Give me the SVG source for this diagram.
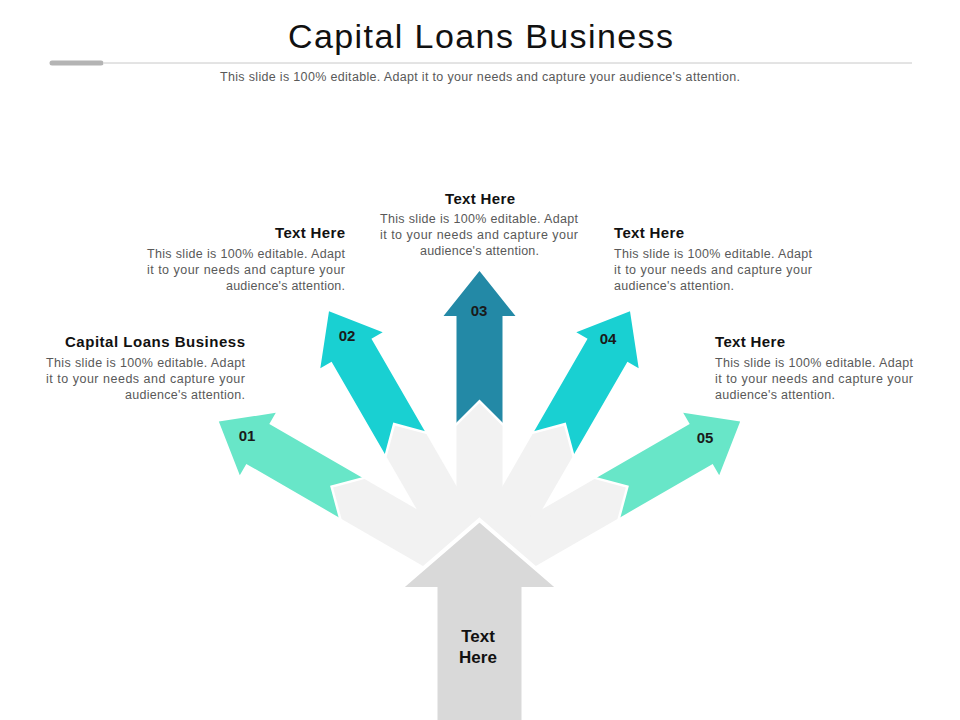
<svg xmlns="http://www.w3.org/2000/svg" width="960" height="720" viewBox="0 0 960 720">
<defs>
<style>
.title{font-family:"Liberation Sans",Arial,sans-serif;font-size:34px;fill:#111;}
.sub{font-family:"Liberation Sans",Arial,sans-serif;font-size:12.5px;fill:#595959;}
.hd{font-family:"Liberation Sans",Arial,sans-serif;font-size:15px;font-weight:bold;fill:#111;}
.bd{font-family:"Liberation Sans",Arial,sans-serif;font-size:12.5px;fill:#595959;}
.num{font-family:"Liberation Sans",Arial,sans-serif;font-size:15px;font-weight:bold;fill:#1a1a1a;text-anchor:middle;}
.ctr{font-family:"Liberation Sans",Arial,sans-serif;font-size:17px;font-weight:bold;fill:#111;text-anchor:middle;}
.mint{fill:#68E6C8;}
.cyan{fill:#19D0D2;}
.dark{fill:#2389A6;}
.segS{fill:#F2F2F2;stroke:#FFFFFF;stroke-width:5;stroke-linejoin:miter;}
.segF{fill:#F2F2F2;}
</style>
<path id="arw" d="M0,-301 L36,-256 L23,-256 L23,-148 L0,-171 L-23,-148 L-23,-256 L-36,-256 Z"/>
<path id="seg" d="M-23,0 L-23,-146 L0,-169 L23,-146 L23,0 Z"/>
</defs>
<rect width="960" height="720" fill="#FFFFFF"/>

<g id="header">
<text class="title" x="288" y="48" textLength="385" lengthAdjust="spacing">Capital Loans Business</text>
<line x1="104" y1="63" x2="912" y2="63" stroke="#C8C8C8" stroke-width="1"/>
<line x1="52" y1="63" x2="101" y2="63" stroke="#B4B4B4" stroke-width="5" stroke-linecap="round"/>
<text class="sub" x="220" y="81" textLength="520" lengthAdjust="spacing">This slide is 100% editable. Adapt it to your needs and capture your audience's attention.</text>
</g>

<g id="connectors">
<g transform="translate(479.5,572)">
<use href="#arw" class="mint" transform="rotate(-60)"/>
<use href="#arw" class="cyan" transform="rotate(-30)"/>
<use href="#arw" class="dark"/>
<use href="#arw" class="cyan" transform="rotate(30)"/>
<use href="#arw" class="mint" transform="rotate(60)"/>
<use href="#seg" class="segS" transform="rotate(-60)"/>
<use href="#seg" class="segS" transform="rotate(-30)"/>
<use href="#seg" class="segS"/>
<use href="#seg" class="segS" transform="rotate(30)"/>
<use href="#seg" class="segS" transform="rotate(60)"/>
<use href="#seg" class="segF" transform="rotate(-60)"/>
<use href="#seg" class="segF" transform="rotate(-30)"/>
<use href="#seg" class="segF"/>
<use href="#seg" class="segF" transform="rotate(30)"/>
<use href="#seg" class="segF" transform="rotate(60)"/>
</g>
</g>

<g id="center-node">
<path d="M479.5,520 L559.5,589 L523.5,589 L523.5,725 L435.5,725 L435.5,589 L399.5,589 Z" fill="#D9D9D9" stroke="#FFFFFF" stroke-width="4" stroke-linejoin="miter"/>
<text class="ctr" x="478" y="642">Text</text>
<text class="ctr" x="478" y="663">Here</text>
</g>

<g id="node-01">
<text class="num" x="247" y="441">01</text>
<text class="hd" x="65" y="347" textLength="180" lengthAdjust="spacing">Capital Loans Business</text>
<text class="bd" x="46" y="367" textLength="199" lengthAdjust="spacing">This slide is 100% editable. Adapt</text>
<text class="bd" x="46" y="383" textLength="199" lengthAdjust="spacing">it to your needs and capture your</text>
<text class="bd" x="125" y="399" textLength="120" lengthAdjust="spacing">audience's attention.</text>
</g>

<g id="node-02">
<text class="num" x="347" y="341">02</text>
<text class="hd" x="275" y="238" textLength="70" lengthAdjust="spacing">Text Here</text>
<text class="bd" x="147" y="258" textLength="198" lengthAdjust="spacing">This slide is 100% editable. Adapt</text>
<text class="bd" x="147" y="274" textLength="198" lengthAdjust="spacing">it to your needs and capture your</text>
<text class="bd" x="226" y="290" textLength="119" lengthAdjust="spacing">audience's attention.</text>
</g>

<g id="node-03">
<text class="num" x="479" y="316">03</text>
<text class="hd" x="445" y="204" textLength="70" lengthAdjust="spacing">Text Here</text>
<text class="bd" x="380" y="223" textLength="198" lengthAdjust="spacing">This slide is 100% editable. Adapt</text>
<text class="bd" x="380" y="239" textLength="198" lengthAdjust="spacing">it to your needs and capture your</text>
<text class="bd" x="420" y="255" textLength="119" lengthAdjust="spacing">audience's attention.</text>
</g>

<g id="node-04">
<text class="num" x="608" y="344">04</text>
<text class="hd" x="614" y="238" textLength="70" lengthAdjust="spacing">Text Here</text>
<text class="bd" x="614" y="258" textLength="198" lengthAdjust="spacing">This slide is 100% editable. Adapt</text>
<text class="bd" x="614" y="274" textLength="198" lengthAdjust="spacing">it to your needs and capture your</text>
<text class="bd" x="614" y="290" textLength="120" lengthAdjust="spacing">audience's attention.</text>
</g>

<g id="node-05">
<text class="num" x="705" y="443">05</text>
<text class="hd" x="715" y="347" textLength="70" lengthAdjust="spacing">Text Here</text>
<text class="bd" x="715" y="367" textLength="198" lengthAdjust="spacing">This slide is 100% editable. Adapt</text>
<text class="bd" x="715" y="383" textLength="198" lengthAdjust="spacing">it to your needs and capture your</text>
<text class="bd" x="715" y="399" textLength="120" lengthAdjust="spacing">audience's attention.</text>
</g>
</svg>
